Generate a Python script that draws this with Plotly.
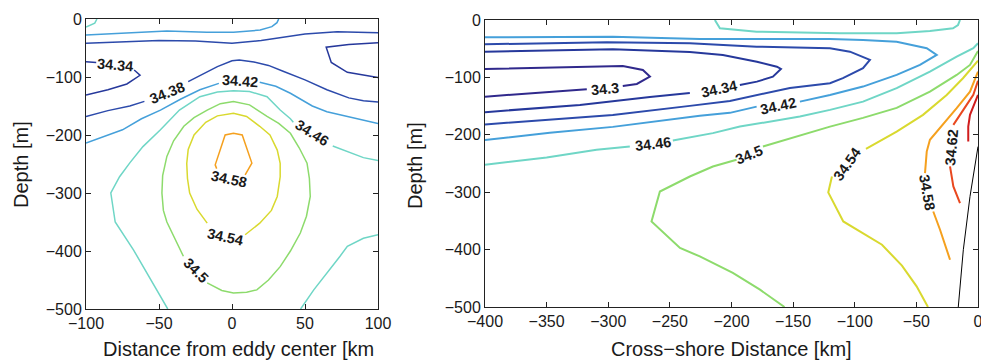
import plotly.graph_objects as go

N = None
# ---------------- Left panel: salinity section across the eddy ----------------
# distance from eddy centre [km] / depth [m]; None = gap where the label sits
L46a_x = [-100, -97, -94, -92.5]
L46a_y = [-14, -11, -7, 0]
L42a_x = [-100, -72, -44.6, -17.2, 1, 19.3, 27.3, 30.8, 32]
L42a_y = [-27.6, -24.7, -20.7, -23, -23, -19, -13.2, -6.3, 0]
L38a_x = [-100, -75, -50, -25, 0, 20, 35, 50, 72, 100]
L38a_y = [-42, -40, -37, -38, -42, -37, -31, -26, -22, -23.5]
L34a_x = [-100, -93, N, -67, -63, -72, -85, -100]
L34a_y = [-73.5, -75, N, -88, -97, -112, -122, -131]
L34b_x = [100, 80, 64.5, 68, 79, 100]
L34b_y = [-41, -44, -48.5, -75, -92, -101]
L38b_x = [-100, -85, -70, -60, N, -30, -20, -10, 0, 5, 15, 25, 35, 50, 65, 80, 90, 100]
L38b_y = [-168, -158, -150, -142, N, -108, -95, -82, -72, -70.6, -74, -80, -90, -105, -122, -136, -141, -143]
L42b_x = [-100, -85, -75, -62, -49, -35, -22, -9, N, 19, 30, 40, 55, 65, 79, 100]
L42b_y = [-214, -200, -191, -172, -157, -138, -122, -111, N, -109, -116, -128, -150, -160, -168, -180]
L46b_x = [-44, -51.5, -58, -67.5, -80, -83, -77, -70, -61, -49, -36, -22, -10, 1, 12, 24, 33, 40, 42, N, 69, 80, 90, 100]
L46b_y = [-500, -467, -440, -398, -350, -300, -272, -248, -220, -191, -157, -134, -126, -123.5, -125, -134, -157, -172, -178, N, -219, -230, -239, -244]
L46c_x = [100, 90, 79, 74, 56, 47]
L46c_y = [-372, -378, -392, -409, -467, -500]
L50_x = [-17, -7, 1, 10, 17, 25, 33, 40, 46.8, 51, 53.6, 53, 51.4, 46, 40, 32, 24, 12, 1, -8, -17, -26, -33, -40, -44.6, -47.5, -48, -47, -44.6, -40, -35.5, -33.3]
L50_y = [-455, -468, -472.5, -471, -467, -450, -427, -400, -369, -340, -306, -275, -248.5, -222, -197, -180, -168, -148, -142.4, -146, -157, -170, -185, -210, -237, -270, -300, -330, -350, -375, -398, -409]
L54_x = [9, 19, 27, 31, 33, 33, 31, 26, 19, 10, 1, -10, -18, -26, -30, -31, -30.5, -29, -24, -17]
L54_y = [-372, -352, -330, -306, -272, -249, -226, -200, -185, -168, -162.5, -167, -178, -200, -225, -249, -275, -300, -328, -352]
L58_x = [9, 13.6, 7, 1, -4.7, -11.5, -10.5]
L58_y = [-268.7, -248.5, -200, -197, -200, -251.5, -258]

left_lines = [
    (L46a_x, L46a_y, 34.46), (L42a_x, L42a_y, 34.42), (L38a_x, L38a_y, 34.38),
    (L34a_x, L34a_y, 34.34), (L34b_x, L34b_y, 34.34), (L38b_x, L38b_y, 34.38),
    (L42b_x, L42b_y, 34.42), (L46b_x, L46b_y, 34.46), (L46c_x, L46c_y, 34.46),
    (L50_x, L50_y, 34.50), (L54_x, L54_y, 34.54), (L58_x, L58_y, 34.58),
]
left_lab_text = ["34.34", "34.38", "34.42", "34.46", "34.5", "34.54", "34.58"]
left_lab_x = [-80, -44.5, 5.5, 55, -25, -4.6, -2.4]
left_lab_y = [-80, -127, -107, -196, -433, -376, -275]
left_lab_ang = [5, -22, 4, 32, 45, 12, 12]

# ---------------- Right panel: cross-shore salinity section ----------------
R42_x = [-400, -347.4, -296.3, -225.7, -177, -120.1, -93.3, -66, -41.6, -33.5, -47.1, -66, -93.3, -120.1, -144.5, N, -179.6, -201.3, -225.7, -258.1, -296.3, -347.4, -400]
R42_y = [-30.1, -29.1, -29.1, -33.1, -33.1, -33.1, -34.8, -37.8, -49.2, -60.9, -78.3, -95.7, -116, -130.5, -142.2, N, -150.9, -161.8, -167, -175.7, -186.2, -196.6, -209]
R38_x = [-400, -301.1, -233.8, -179.6, -120.1, -103.9, -87.7, -93.3, -109.6, -120.1, -152.6, -201.3, -233.8, -296.3, -400]
R38_y = [-42.3, -38.8, -40.5, -46.5, -49.2, -55.2, -69.6, -84, -101.4, -110.1, -118.3, -141, -149.6, -165.3, -182]
R34_x = [-400, -296.3, -233.8, -207, -179.4, -163.2, -159.9, -166.4, -179.4, -193.2, N, -233.8, -266.2, -323, -400]
R34_y = [-55.2, -51, -55.7, -60.9, -72.6, -81.3, -85.3, -98.7, -107.4, -113.1, N, -127, -134, -147.9, -160.5]
R30_x = [-400, -323, -288.2, -271.9, -266.2, -276.8, -288.2, N, -317.4, -347.4, -400]
R30_y = [-85.3, -81.3, -80, -87, -98.7, -111.4, -114.8, N, -120.6, -125.3, -133.5]
R46a_x = [-213.5, -209.4, -179.6, -112, -66, -39, -20.3, -16.2, -14.6]
R46a_y = [0, -14.4, -20.4, -23.1, -23.1, -19.1, -14.4, -8.7, 0]
R46b_x = [-400, -350, -309.5, -282.5, N, -247.6, -215.1, -193.2, -144.5, -120.1, -93.3, -66, -39, -17.3, -3.8, 0]
R46b_y = [-252, -239.6, -226.2, -220.5, N, -210, -197.1, -185.7, -168.3, -156.6, -142.2, -118.8, -90, -63.9, -49.2, -40.5]
R50_x = [0, -6.5, -17.3, -39, -66, -93.3, -120.1, -142, -174.5, N, -195.9, -215.1, -233.8, -247.6, -258.1, -264.9, -241.8, -225.7, -198.9, -176.9, -157]
R50_y = [-54, -78.3, -95.7, -124.8, -153.1, -170.5, -185.7, -200.1, -220.5, N, -243.6, -255.3, -272.7, -287.1, -298.8, -351, -397.2, -411.9, -440.7, -469.8, -500]
R54_x = [0, -12.2, -25.4, -44.6, -66, -79.5, -90.9, N, -118.5, -121.5, -109.3, -77.9, -61.7, -49.8, -41.6, -40.6]
R54_y = [-71, -101.4, -130.5, -165.3, -194.4, -210.5, -224.5, N, -272.7, -300.5, -351, -391.5, -428, -464, -496, -500]
R58_x = [0, -6.5, -17.3, -30.8, -39, -41.6, -43, N, -36.3, -30.8, -22.7]
R58_y = [-90, -124.8, -153.6, -188.4, -208.8, -229.2, -266.7, N, -333.6, -365.4, -417.6]
R62_x = [0, -3.8, -11.9, -20, N, -22.7, -20, -14.6]
R62_y = [-106, -130.5, -156.6, -182.7, N, -255, -290, -319]
R66_x = [0, -6.5, -7.9, -7.9]
R66_y = [-130.5, -165.3, -185.7, -211.8]
# bottom topography (thin black)
RB_x = [0, -6.5, -11.9, -16]
RB_y = [-220.5, -307.5, -400.2, -500]

right_lines = [
    (R42_x, R42_y, 34.42), (R38_x, R38_y, 34.38), (R34_x, R34_y, 34.34),
    (R30_x, R30_y, 34.30), (R46a_x, R46a_y, 34.46), (R46b_x, R46b_y, 34.46),
    (R50_x, R50_y, 34.50), (R54_x, R54_y, 34.54), (R58_x, R58_y, 34.58),
    (R62_x, R62_y, 34.62), (R66_x, R66_y, 34.66),
]
right_lab_text = ["34.3", "34.34", "34.42", "34.46", "34.5", "34.54", "34.58", "34.62"]
right_lab_x = [-303, -210, -162, -264, -186, -106, -41.5, -21]
right_lab_y = [-121, -120, -149, -216, -235, -251, -300, -222]
right_lab_ang = [-5, -12, -12, -7, -22, -55, 80, -85]

level_color = {
    34.30: "#30298c", 34.34: "#26389b", 34.38: "#2c4aab", 34.42: "#45a0da",
    34.46: "#6fd6c6", 34.50: "#8ddb6c", 34.54: "#d9d92f", 34.58: "#f5a01e",
    34.62: "#e9481f", 34.66: "#d01c1c",
}

FONT = "Liberation Sans, Arial, Helvetica, sans-serif"
fig = go.Figure()
for xs, ys, lev in left_lines:
    fig.add_trace(go.Scatter(x=xs, y=ys, mode="lines", xaxis="x", yaxis="y",
                             line=dict(color=level_color[lev], width=1.5),
                             hoverinfo="skip", showlegend=False, connectgaps=False))
for xs, ys, lev in right_lines:
    fig.add_trace(go.Scatter(x=xs, y=ys, mode="lines", xaxis="x2", yaxis="y2",
                             line=dict(color=level_color[lev], width=2),
                             hoverinfo="skip", showlegend=False, connectgaps=False))
fig.add_trace(go.Scatter(x=RB_x, y=RB_y, mode="lines", xaxis="x2", yaxis="y2",
                         line=dict(color="black", width=1), hoverinfo="skip", showlegend=False))

annos = []
for t, x, y, a in zip(left_lab_text, left_lab_x, left_lab_y, left_lab_ang):
    annos.append(dict(x=x, y=y, xref="x", yref="y", text=t, showarrow=False, textangle=a,
                      font=dict(family=FONT, size=14.5, color="#1a1a1a", weight="bold")))
for t, x, y, a in zip(right_lab_text, right_lab_x, right_lab_y, right_lab_ang):
    annos.append(dict(x=x, y=y, xref="x2", yref="y2", text=t, showarrow=False, textangle=a,
                      font=dict(family=FONT, size=14.5, color="#1a1a1a", weight="bold")))

W, H = 981, 360
def px(x):
    return x / W
def py(y):
    return 1 - y / H

title_font = dict(family=FONT, size=20, color="#1a1a1a")
annos += [
    dict(x=px(238), y=py(349), xref="paper", yref="paper", text="Distance from eddy center [km",
         showarrow=False, xanchor="center", yanchor="middle", font=title_font),
    dict(x=px(731.5), y=py(349), xref="paper", yref="paper", text="Cross\u2212shore Distance [km]",
         showarrow=False, xanchor="center", yanchor="middle", font=title_font),
    dict(x=px(21), y=py(165), xref="paper", yref="paper", text="Depth [m]", textangle=-90,
         showarrow=False, xanchor="center", yanchor="middle", font=title_font),
    dict(x=px(415), y=py(166), xref="paper", yref="paper", text="Depth [m]", textangle=-90,
         showarrow=False, xanchor="center", yanchor="middle", font=title_font),
]

axis_style = dict(showline=True, linecolor="#222222", linewidth=1, mirror="ticks",
                  ticks="inside", ticklen=5, tickcolor="#222222", showgrid=False,
                  zeroline=False, automargin=False, ticklabeloverflow="allow",
                  tickfont=dict(family=FONT, size=16, color="#1a1a1a"))

left_xticks = [-100, -50, 0, 50, 100]
right_xticks = [-400, -350, -300, -250, -200, -150, -100, -50, 0]
depth_ticks = [0, -100, -200, -300, -400, -500]

fig.update_layout(
    width=W, height=H, margin=dict(l=0, r=0, t=0, b=0, autoexpand=False),
    paper_bgcolor="white", plot_bgcolor="white", showlegend=False,
    xaxis=dict(domain=[px(86), px(378)], range=[-100, 100], tickvals=left_xticks,
               anchor="y", **axis_style),
    yaxis=dict(domain=[py(309), py(19)], range=[-500, 0], tickvals=depth_ticks,
               anchor="x", **axis_style),
    xaxis2=dict(domain=[px(485), px(978)], range=[-400, 0], tickvals=right_xticks,
                anchor="y2", **axis_style),
    yaxis2=dict(domain=[py(307), py(20)], range=[-500, 0], tickvals=depth_ticks,
                anchor="x2", **axis_style),
    annotations=annos,
)
fig.write_html("out.html")
